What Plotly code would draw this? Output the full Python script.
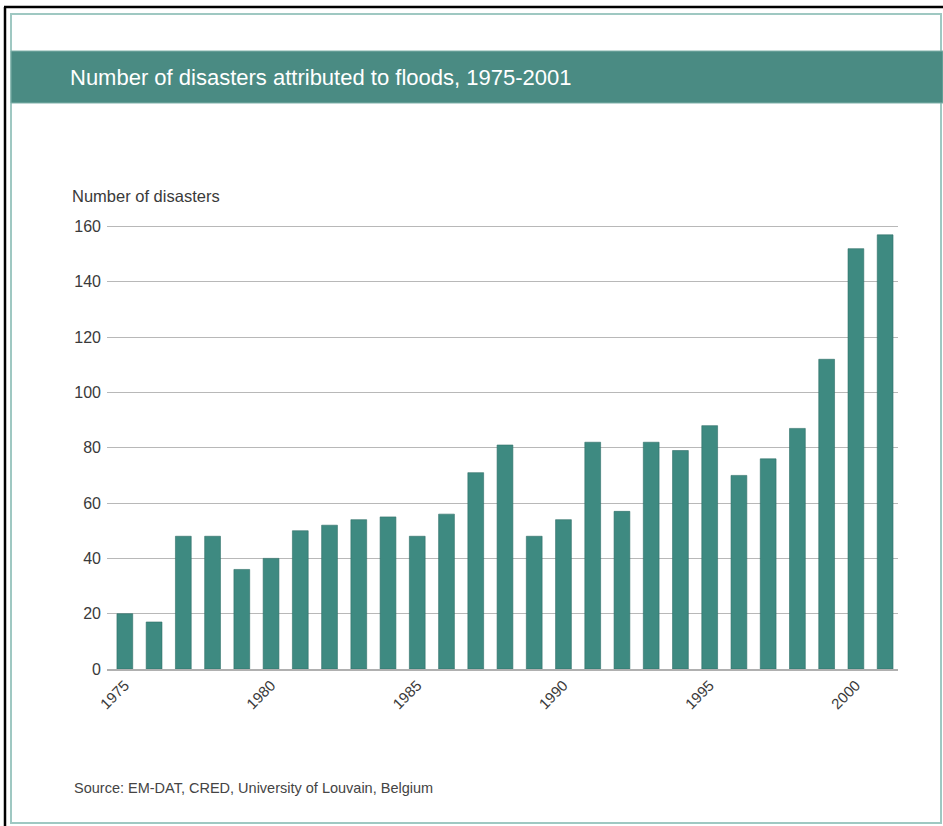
import plotly.graph_objects as go

years = list(range(1975, 2002))
disasters = [20, 17, 48, 48, 36, 40, 50, 52, 54, 55, 48, 56, 71, 81,
             48, 54, 82, 57, 82, 79, 88, 70, 76, 87, 112, 152, 157]
x_tick_vals = [1975, 1980, 1985, 1990, 1995, 2000]
x_tick_text = ["1975", "1980", "1985", "1990", "1995", "2000"]
y_tick_vals = [0, 20, 40, 60, 80, 100, 120, 140, 160]

title_text = "Number of disasters attributed to floods, 1975-2001"
y_title = "Number of disasters"
source_text = "Source: EM-DAT, CRED, University of Louvain, Belgium"

W, H = 943, 826
L, R, T, B = 107, 45, 221, 157
PW, PH = W - L - R, H - T - B

def px(x):
    return (x - L) / PW

def py(y):
    return (H - B - y) / PH

BAR = "#3e8a81"
BAND = "#4a8b83"
FRAME = "#9fc8c2"
TXT = "#3a3a3a"
FONT = "Liberation Sans, Arial, sans-serif"

fig = go.Figure(go.Bar(
    x=years, y=disasters,
    marker=dict(color=BAR, line=dict(color="#2f6f68", width=0.6)),
    width=0.54,
))

shapes = [
    dict(type="line", xref="paper", yref="paper", x0=px(5), y0=py(826), x1=px(5), y1=py(7),
         line=dict(color="black", width=2.5), layer="above"),
    dict(type="line", xref="paper", yref="paper", x0=px(4), y0=py(7), x1=px(943), y1=py(7),
         line=dict(color="black", width=2.5), layer="above"),
    dict(type="rect", xref="paper", yref="paper", x0=px(11), y0=py(823), x1=px(941), y1=py(14),
         line=dict(color=FRAME, width=2), fillcolor="rgba(0,0,0,0)", layer="below"),
    dict(type="rect", xref="paper", yref="paper", x0=px(11), y0=py(103), x1=px(943), y1=py(51),
         line=dict(color="#7fb0a9", width=1), fillcolor=BAND, layer="below"),
]

annotations = [
    dict(text=title_text, xref="paper", yref="paper", x=px(68), y=py(77),
         xanchor="left", yanchor="middle", showarrow=False,
         font=dict(family=FONT, size=22, color="white")),
    dict(text=y_title, xref="paper", yref="paper", x=px(70), y=py(196),
         xanchor="left", yanchor="middle", showarrow=False,
         font=dict(family=FONT, size=16.5, color=TXT)),
    dict(text=source_text, xref="paper", yref="paper", x=px(72), y=py(788),
         xanchor="left", yanchor="middle", showarrow=False,
         font=dict(family=FONT, size=14.5, color="#444444")),
]

fig.update_layout(
    width=W, height=H, autosize=False,
    margin=dict(l=L, r=R, t=T, b=B, pad=0),
    paper_bgcolor="white", plot_bgcolor="white",
    showlegend=False,
    shapes=shapes, annotations=annotations,
    font=dict(family=FONT, color=TXT),
    xaxis=dict(
        range=[1974.39, 2001.44],
        tickmode="array", tickvals=x_tick_vals, ticktext=x_tick_text,
        tickangle=-45, tickfont=dict(size=15, color=TXT),
        showgrid=False, zeroline=False,
        showline=True, linecolor="#b0b0b0", linewidth=1.5,
        ticks="", ticklen=0,
    ),
    yaxis=dict(
        range=[0, 162],
        tickmode="array", tickvals=y_tick_vals,
        tickfont=dict(size=16, color=TXT),
        showgrid=True, gridcolor="#b8b8b8", gridwidth=1.3,
        zeroline=False, showline=False, ticks="", ticklabelstandoff=5,
    ),
)

fig.write_html("out.html")
